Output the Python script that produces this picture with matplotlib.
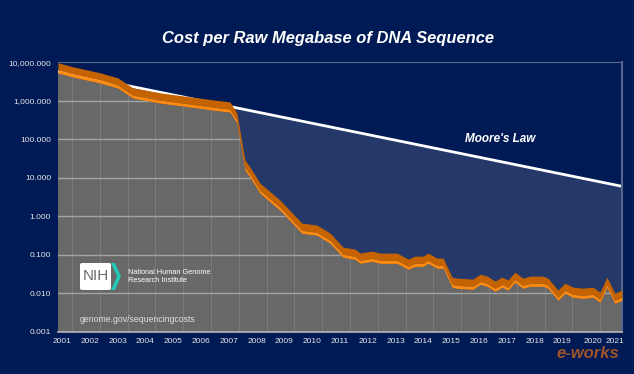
import matplotlib.pyplot as plt
import matplotlib.patches as mpatches
import numpy as np

plt.rcParams['font.family'] = ['Liberation Sans', 'DejaVu Sans']

# cost per raw megabase (USD)
years = [2000.86, 2001.40, 2002.37, 2003.01, 2003.55, 2004.53, 2005.35, 2006.43, 2007.04,
         2007.29, 2007.58, 2007.76, 2008.12, 2008.84, 2009.63, 2010.17, 2010.64, 2011.11,
         2011.54, 2011.72, 2012.15, 2012.44, 2013.05, 2013.45, 2013.70, 2013.99, 2014.17,
         2014.49, 2014.71, 2015.03, 2015.21, 2015.78, 2016.04, 2016.29, 2016.58, 2016.83,
         2017.04, 2017.29, 2017.58, 2017.83, 2018.30, 2018.48, 2018.84, 2019.09, 2019.38,
         2019.74, 2020.10, 2020.35, 2020.60, 2020.88, 2021.14]
cost = [5180, 4080, 2850, 2110, 1160, 861, 720, 566, 502,
        260, 15.7, 10.3, 3.95, 1.43, 0.361, 0.321, 0.199, 0.0861,
        0.0764, 0.0601, 0.0678, 0.0601, 0.0601, 0.0420, 0.0502, 0.0502, 0.0601,
        0.0446, 0.0446, 0.0143, 0.0135, 0.0127, 0.0171, 0.0152, 0.0113, 0.0143,
        0.0120, 0.0193, 0.0135, 0.0152, 0.0152, 0.0135, 0.00658, 0.0100, 0.00787,
        0.00741, 0.00787, 0.00583, 0.0143, 0.00550, 0.00658]

# Moore's law reference line (start / end)
moore_x = [2000.86, 2021.14]
moore_y = [5700, 6.0]

ytick_vals = [0.001, 0.01, 0.1, 1, 10, 100, 1000, 10000]
ytick_labels = ['0.001', '0.010', '0.100', '1.000', '10.000', '100.000', '1,000.000', '10,000.000']
xtick_labels = [str(y) for y in range(2001, 2022)]
xtick_pos = [2001 + i for i in range(19)] + [2020.1, 2020.88]

navy = '#001a55'
navy_light = '#24386a'
gray = '#686868'

x = np.array(years)
c = np.array(cost)
moore = 10 ** np.interp(x, moore_x, np.log10(moore_y))

fig = plt.figure(figsize=(6.34, 3.74), dpi=100, facecolor=navy)
ax = fig.add_axes([0.0915, 0.1123, 0.8895, 0.7217])
ax.set_facecolor(gray)
ax.set_yscale('log')
ax.set_ylim(0.001, 10000)
ax.set_xlim(2000.86, 2021.14)

# grid only visible in the gray area
ax.set_axisbelow(True)
ax.yaxis.grid(True, which='major', color='#a4a4a4', lw=1.0)
ax.set_xticks(np.arange(2001.36, 2021, 1.0), minor=True)
ax.xaxis.grid(True, which='minor', color='#7a7a7a', lw=0.8)

ax.fill_between(x, c, 1e5, color=navy_light, lw=0, zorder=1)
ax.fill_between(x, moore, 1e5, color=navy, lw=0, zorder=1.1)
ax.plot(x, moore, color='white', lw=2, zorder=2, solid_capstyle='butt')

# orange extruded band
ax.fill_between(x, c * 1.2, c * 1.85, color='#c46300', lw=0, zorder=3)
ax.fill_between(x, c, c * 1.2, color='#ff8a10', lw=0, zorder=3.1)

ax.text(2016.76, 100, "Moore's Law", color='white', fontsize=8.5, fontweight='bold',
        fontstyle='italic', ha='center', va='center', zorder=4)

ax.set_yticks(ytick_vals)
ax.set_yticklabels(ytick_labels)
ax.yaxis.set_minor_locator(plt.NullLocator())
ax.set_xticks(xtick_pos)
ax.set_xticklabels(xtick_labels)
ax.tick_params(axis='both', which='both', length=0, colors='#e6e6e6', labelsize=6)
ax.tick_params(axis='y', pad=5)
ax.tick_params(axis='x', pad=4)

ax.spines['left'].set_visible(False)
ax.spines['top'].set_color('#56668c')
ax.spines['right'].set_color('#56668c')
ax.spines['right'].set_linewidth(1.5)
ax.spines['bottom'].set_color('#b4b4b4')
ax.spines['bottom'].set_linewidth(1.2)

fig.text(0.517, 0.898, 'Cost per Raw Megabase of DNA Sequence', color='white',
         fontsize=11.9, fontweight='bold', fontstyle='italic', ha='center', va='center')

# NIH logo
box = mpatches.FancyBboxPatch((80 / 634, 1 - 290 / 374), 31 / 634, 27 / 374,
                              boxstyle='round,pad=0,rounding_size=0.004',
                              transform=fig.transFigure, facecolor='white',
                              edgecolor='none', zorder=5)
fig.patches.append(box)
fig.text(95.5 / 634, 1 - 276.5 / 374, 'NIH', color='#6b6b6b', fontsize=11,
         ha='center', va='center', zorder=6)
chev = mpatches.Polygon([(111 / 634, 1 - 263 / 374), (115 / 634, 1 - 263 / 374),
                         (121 / 634, 1 - 276.5 / 374), (115 / 634, 1 - 290 / 374),
                         (111 / 634, 1 - 290 / 374), (117 / 634, 1 - 276.5 / 374)],
                        closed=True, transform=fig.transFigure, facecolor='#22c7b8',
                        edgecolor='none', zorder=5)
fig.patches.append(chev)
fig.text(128 / 634, 1 - 276.5 / 374, 'National Human Genome\nResearch Institute',
         color='white', fontsize=5.3, ha='left', va='center', linespacing=1.3)
fig.text(80 / 634, 1 - 320 / 374, 'genome.gov/sequencingcosts', color='#e0e0e0',
         fontsize=6.3, ha='left', va='center')

# watermark
fig.text(588 / 634, 1 - 353 / 374, 'e-works', color='#c8641e', fontsize=12,
         fontstyle='italic', fontweight='bold', ha='center', va='center', alpha=0.8)

fig.savefig('out.png', dpi=100, facecolor=navy)
